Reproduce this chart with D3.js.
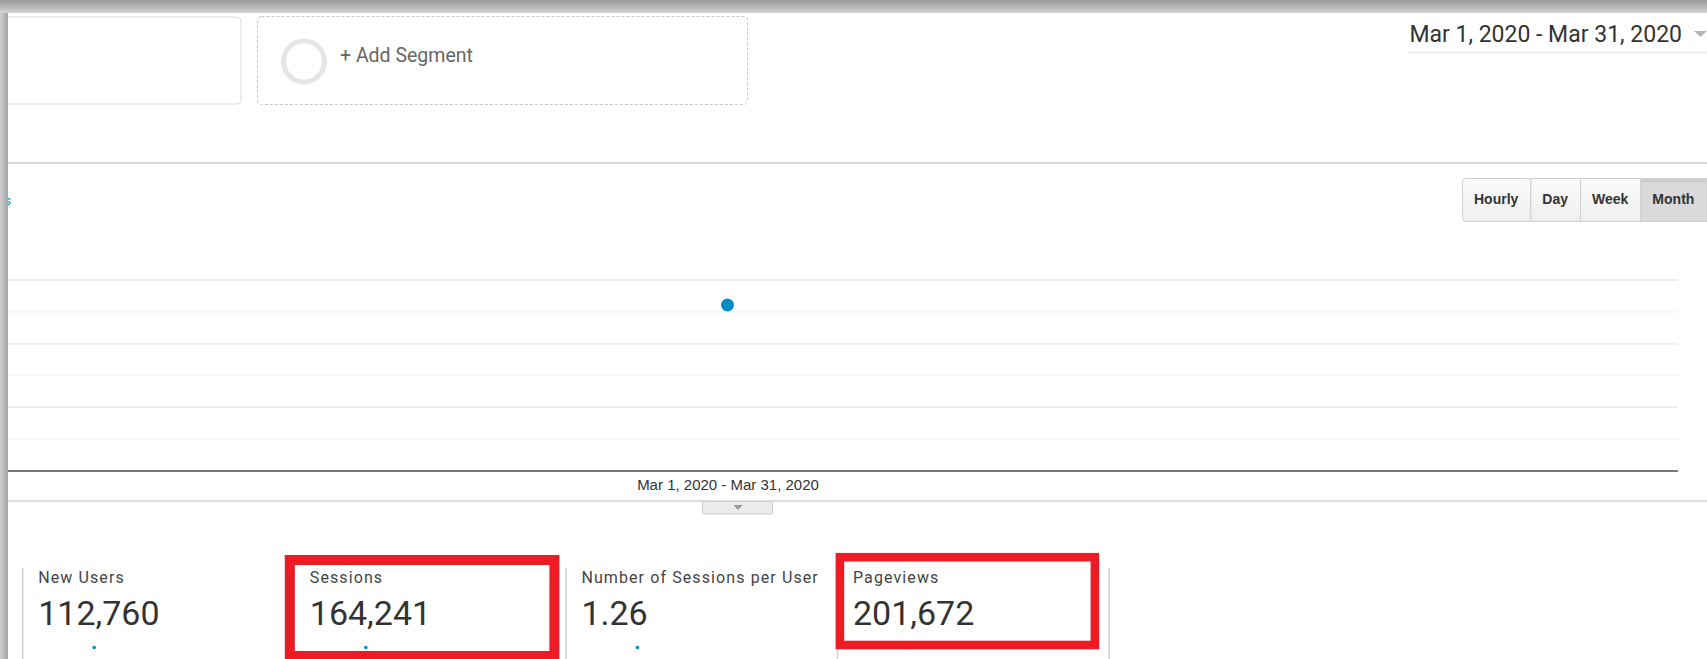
<!DOCTYPE html>
<html>
<head>
<meta charset="utf-8">
<script src="https://cdn.jsdelivr.net/npm/d3@7"></script>
<style>
  body { margin: 0; background: #fff; }
  svg { display: block; }
</style>
</head>
<body>
<div id="chart"></div>
<script>
const width = 1707;
const height = 659;

// Data
const periods = ['Mar 1, 2020 - Mar 31, 2020'];
const users = [130350];
const yTicks = [0, 25000, 50000, 75000, 100000, 125000, 150000];
const intervals = ['Hourly', 'Day', 'Week', 'Month'];
const selectedInterval = 'Month';
const dateRange = 'Mar 1, 2020 - Mar 31, 2020';
const kpiLabels = ['New Users', 'Sessions', 'Number of Sessions per User', 'Pageviews'];
const kpiValues = [112760, 164241, 1.26, 201672];
const kpiFormats = [',', ',', '.2f', ','];
const highlighted = ['Sessions', 'Pageviews'];

const blue = '#058dc7';
const red = '#ed1c24';

const svg = d3.select('#chart')
  .append('svg')
  .attr('width', width)
  .attr('height', height)
  .style('background', '#fff');

const defs = svg.append('defs');
const topGrad = defs.append('linearGradient')
  .attr('id', 'topShadow').attr('x1', 0).attr('y1', 0).attr('x2', 0).attr('y2', 1);
topGrad.append('stop').attr('offset', '0%').attr('stop-color', '#9a9a9a');
topGrad.append('stop').attr('offset', '100%').attr('stop-color', '#d2d2d2');
const leftGrad = defs.append('linearGradient')
  .attr('id', 'leftShadow').attr('x1', 0).attr('y1', 0).attr('x2', 1).attr('y2', 0);
leftGrad.append('stop').attr('offset', '0%').attr('stop-color', '#cfcfcf');
leftGrad.append('stop').attr('offset', '100%').attr('stop-color', '#a5a5a5');
const btnGrad = defs.append('linearGradient')
  .attr('id', 'btnGrad').attr('x1', 0).attr('y1', 0).attr('x2', 0).attr('y2', 1);
btnGrad.append('stop').attr('offset', '0%').attr('stop-color', '#fbfbfb');
btnGrad.append('stop').attr('offset', '100%').attr('stop-color', '#efefef');

// ---- Segment boxes ----
svg.append('rect')
  .attr('x', -10).attr('y', 17).attr('width', 251).attr('height', 87)
  .attr('rx', 4).attr('fill', '#fff').attr('stroke', '#dcdcdc');
svg.append('rect')
  .attr('x', 257.5).attr('y', 16.5).attr('width', 490).attr('height', 88)
  .attr('rx', 4).attr('fill', 'none').attr('stroke', '#c8c8c8')
  .attr('stroke-dasharray', '3,2');
svg.append('circle')
  .attr('cx', 304).attr('cy', 61.5).attr('r', 20.5)
  .attr('fill', 'none').attr('stroke', '#e6e6e6').attr('stroke-width', 5);
svg.append('text')
  .attr('x', 340).attr('y', 61.5)
  .attr('font-family', 'Roboto, sans-serif').attr('font-size', 19.5)
  .attr('fill', '#666')
  .text('+ Add Segment');

// ---- Date range picker ----
svg.append('text')
  .attr('x', 1682).attr('y', 41.5)
  .attr('text-anchor', 'end')
  .attr('font-family', 'Roboto, sans-serif').attr('font-size', 23)
  .attr('fill', '#333')
  .text(dateRange);
svg.append('path')
  .attr('d', 'M1694,31 L1707,31 L1700.5,37 Z')
  .attr('fill', '#b5b5b5');
svg.append('line')
  .attr('x1', 1408).attr('x2', width).attr('y1', 52.5).attr('y2', 52.5)
  .attr('stroke', '#eeeeee').attr('stroke-width', 2);

// separator above the chart
svg.append('line')
  .attr('x1', 0).attr('x2', width).attr('y1', 163).attr('y2', 163)
  .attr('stroke', '#d8d8d8').attr('stroke-width', 2);

// ---- Interval buttons ----
const btnG = svg.append('g').attr('class', 'buttons');
let bx = 1462;
intervals.forEach(name => {
  const t = btnG.append('text')
    .attr('y', 204)
    .attr('text-anchor', 'middle')
    .attr('font-family', 'Liberation Sans, Arial, sans-serif')
    .attr('font-weight', 'bold').attr('font-size', 14)
    .attr('fill', '#333')
    .text(name);
  const w = t.node().getComputedTextLength() + 24;
  btnG.insert('rect', 'text')
    .attr('x', bx + 0.5).attr('y', 178.5).attr('width', w).attr('height', 43)
    .attr('rx', name === intervals[0] ? 3 : 0)
    .attr('fill', name === selectedInterval ? '#dadada' : 'url(#btnGrad)')
    .attr('stroke', '#cfcfcf');
  if (name === selectedInterval) {
    btnG.insert('rect', 'text')
      .attr('x', bx + 1.5).attr('y', 179.5).attr('width', w - 2).attr('height', 3)
      .attr('fill', '#c9c9c9');
  }
  t.attr('x', bx + w / 2);
  bx += w;
});

// ---- Main chart ----
const yScale = d3.scaleLinear()
  .domain([0, 150000])
  .range([471, 280]);
const xScale = d3.scalePoint()
  .domain(periods)
  .range([-223, 1678])
  .padding(0.5);

// gridlines
svg.append('g')
  .selectAll('line')
  .data(yTicks.filter(d => d > 0))
  .enter()
  .append('line')
  .attr('x1', 8).attr('x2', 1678)
  .attr('y1', d => yScale(d)).attr('y2', d => yScale(d))
  .attr('stroke', d => (d / 25000) % 2 === 0 ? '#ededed' : '#f7f7f7')
  .attr('stroke-width', 2);

// x axis
const xAxis = d3.axisBottom(xScale).tickSize(0).tickSizeOuter(0).tickPadding(8);
const axisG = svg.append('g')
  .attr('class', 'xAxis')
  .attr('transform', `translate(0, ${yScale(0)})`)
  .call(xAxis);
axisG.select('.domain')
  .attr('stroke', '#7a7a7a').attr('stroke-width', 2);
axisG.selectAll('text')
  .attr('font-family', 'Liberation Sans, Arial, sans-serif')
  .attr('font-size', 15)
  .attr('fill', '#333');
// clip the domain line at the plot's right edge
axisG.select('.domain').attr('d', `M-223,0H1678`);

// data point
svg.append('g')
  .selectAll('circle')
  .data(periods)
  .enter()
  .append('circle')
  .attr('cx', d => xScale(d))
  .attr('cy', (d, i) => yScale(users[i]))
  .attr('r', 6.5)
  .attr('fill', blue);

// legend remnant at left edge (mostly cut off in the screenshot)
svg.append('text')
  .attr('x', 11).attr('y', 205)
  .attr('text-anchor', 'end')
  .attr('font-family', 'Roboto, sans-serif').attr('font-size', 13)
  .attr('fill', blue)
  .text('Users');

// separator below chart + collapse tab
svg.append('line')
  .attr('x1', 0).attr('x2', width).attr('y1', 501).attr('y2', 501)
  .attr('stroke', '#dddddd').attr('stroke-width', 2);
svg.append('rect')
  .attr('x', 702.5).attr('y', 501.5).attr('width', 70).attr('height', 12.5)
  .attr('rx', 2)
  .attr('fill', '#ececec').attr('stroke', '#cccccc');
svg.append('path')
  .attr('d', 'M733.5,505 L742.5,505 L738,510 Z')
  .attr('fill', '#999');

// ---- KPI scorecards ----
const colScale = d3.scaleBand()
  .domain(kpiLabels)
  .range([22.7, 22.7 + 4 * 271.6]);

const kpi = svg.append('g').attr('class', 'kpis');
kpi.selectAll('line.sep')
  .data(kpiLabels.concat(['end']))
  .enter()
  .append('line')
  .attr('class', 'sep')
  .attr('x1', d => d === 'end' ? colScale.range()[1] : colScale(d))
  .attr('x2', d => d === 'end' ? colScale.range()[1] : colScale(d))
  .attr('y1', 568).attr('y2', height)
  .attr('stroke', '#d2d2d2').attr('stroke-width', 1.5);

kpi.selectAll('text.label')
  .data(kpiLabels)
  .enter()
  .append('text')
  .attr('class', 'label')
  .attr('x', d => colScale(d) + 15.5)
  .attr('y', 583)
  .attr('font-family', 'Roboto, sans-serif').attr('font-size', 16)
  .attr('letter-spacing', 1.1)
  .attr('fill', '#444')
  .text(d => d);

kpi.selectAll('text.value')
  .data(kpiLabels)
  .enter()
  .append('text')
  .attr('class', 'value')
  .attr('x', d => colScale(d) + 15.5)
  .attr('y', 625)
  .attr('font-family', 'Roboto, sans-serif').attr('font-size', 34)
  .attr('fill', '#333')
  .text((d, i) => d3.format(kpiFormats[i])(kpiValues[i]));

// sparklines (one point each)
kpiLabels.forEach((label, i) => {
  const sx = d3.scalePoint().domain(periods)
    .range([colScale(label), colScale(label) + 143]).padding(0.5);
  const sy = d3.scaleLinear().domain([0, kpiValues[i] * 2]).range([659, 636]);
  kpi.append('circle')
    .attr('cx', sx(periods[0]))
    .attr('cy', sy(kpiValues[i]))
    .attr('r', 1.8)
    .attr('fill', blue);
});

// red highlight boxes
const boxStyle = {
  'Sessions': { dx: -4.5, y: 560, w: 264.6, h: 96, sw: 10 },
  'Pageviews': { dx: 2.4, y: 557.2, w: 255, h: 87.8, sw: 8.6 }
};
kpi.selectAll('rect.highlight')
  .data(highlighted)
  .enter()
  .append('rect')
  .attr('class', 'highlight')
  .attr('x', d => colScale(d) + boxStyle[d].dx)
  .attr('y', d => boxStyle[d].y)
  .attr('width', d => boxStyle[d].w)
  .attr('height', d => boxStyle[d].h)
  .attr('fill', 'none')
  .attr('stroke', red)
  .attr('stroke-width', d => boxStyle[d].sw);

// ---- screenshot shadows ----
svg.append('rect')
  .attr('x', 0).attr('y', 0).attr('width', 8).attr('height', height)
  .attr('fill', 'url(#leftShadow)');
svg.append('rect')
  .attr('x', 0).attr('y', 0).attr('width', width).attr('height', 13)
  .attr('fill', 'url(#topShadow)');
</script>
</body>
</html>
